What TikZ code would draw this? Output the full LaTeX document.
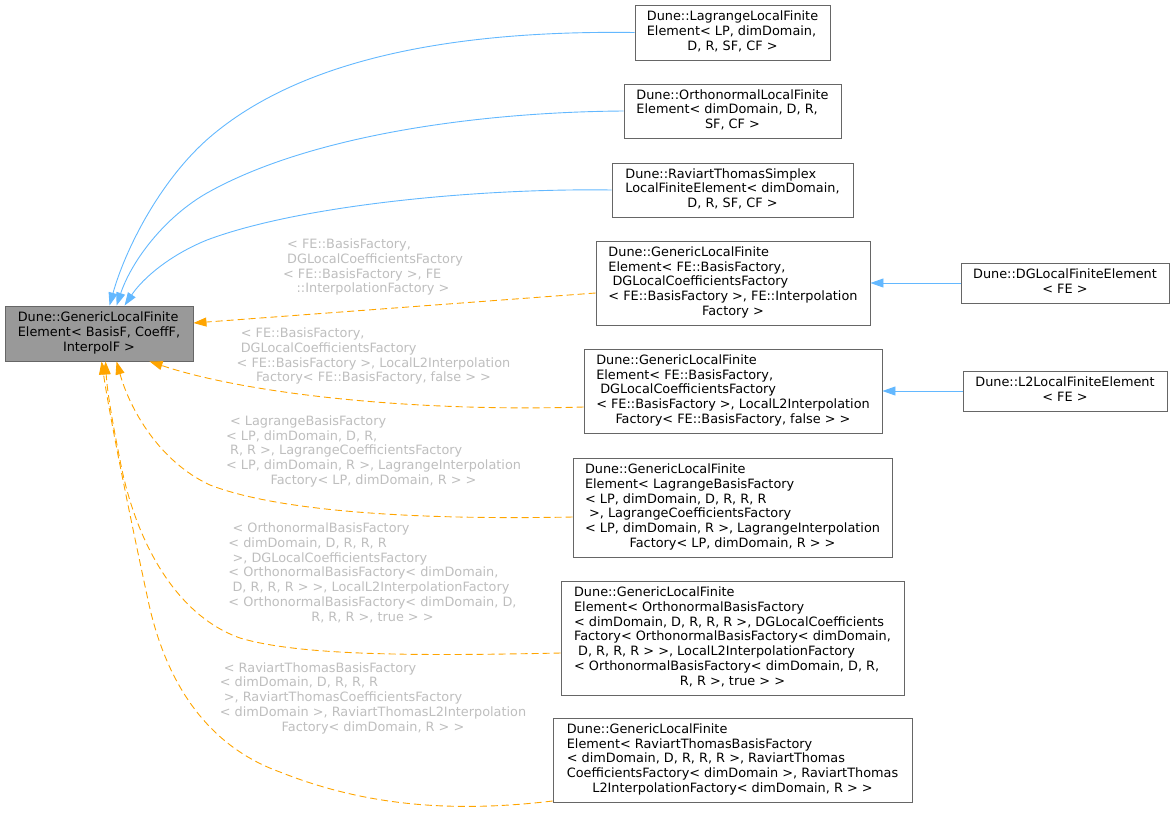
\documentclass[tikz,border=0pt]{standalone}
\usepackage{fontspec}
\setmainfont{DejaVu Sans}
\usetikzlibrary{arrows.meta}
\definecolor{edgeblue}{HTML}{63B8FF}
\definecolor{edgeorange}{HTML}{FFA500}
\definecolor{boxborder}{HTML}{666666}
\definecolor{mainfill}{HTML}{999999}
\definecolor{lblgray}{HTML}{BEBEBE}
\newcommand\dxl[2]{\begin{tabular}{@{}l@{}}#1\\\multicolumn{1}{@{}c@{}}{#2}\end{tabular}}
\tikzset{
 cls/.style={draw=boxborder, line width=0.9pt, fill=white, inner sep=0pt, text=black, font=\fontsize{12.85}{14.7}\selectfont},
 mainbox/.style={cls, fill=mainfill},
 lbl/.style={inner sep=0pt, text=lblgray, font=\fontsize{12.85}{14.7}\selectfont},
 inh/.style={draw=edgeblue, line width=0.9pt, -{Triangle[length=13pt,width=9pt]}},
 tmpl/.style={draw=edgeorange, line width=0.9pt, dash pattern=on 7pt off 4pt, -{Triangle[length=13pt,width=9pt]}},
}
\begin{document}
\begin{tikzpicture}[x=1pt,y=-1pt]
\useasboundingbox (0,0) rectangle (1175,812);
% nodes
\node[mainbox, minimum width=188pt, minimum height=55pt] (main) at (99,333.5) {\dxl{Dune::GenericLocalFinite\\Element< BasisF, CoeffF,}{InterpolF >}};
\node[cls, minimum width=195pt, minimum height=55pt] (lagr) at (732.5,32.5) {\dxl{Dune::LagrangeLocalFinite\\Element< LP, dimDomain,}{D, R, SF, CF >}};
\node[cls, minimum width=217pt, minimum height=54pt] (orth) at (732.5,111) {\dxl{Dune::OrthonormalLocalFinite\\Element< dimDomain, D, R,}{SF, CF >}};
\node[cls, minimum width=241pt, minimum height=54pt] (rts) at (732.5,190) {\dxl{Dune::RaviartThomasSimplex\\LocalFiniteElement< dimDomain,}{D, R, SF, CF >}};
\node[cls, minimum width=274pt, minimum height=84pt] (gfe) at (733,283) {\dxl{Dune::GenericLocalFinite\\Element< FE::BasisFactory,\\\ DGLocalCoefficientsFactory\\< FE::BasisFactory >, FE::Interpolation}{Factory >}};
\node[cls, minimum width=208pt, minimum height=40pt] (dg) at (1065,283) {\dxl{Dune::DGLocalFiniteElement}{< FE >}};
\node[cls, minimum width=298pt, minimum height=84pt] (gl2) at (733,391) {\dxl{Dune::GenericLocalFinite\\Element< FE::BasisFactory,\\\ DGLocalCoefficientsFactory\\< FE::BasisFactory >, LocalL2Interpolation}{Factory< FE::BasisFactory, false > >}};
\node[cls, minimum width=204pt, minimum height=40pt] (l2) at (1065,391) {\dxl{Dune::L2LocalFiniteElement}{< FE >}};
\node[cls, minimum width=319pt, minimum height=99pt] (glag) at (732.5,507.5) {\dxl{Dune::GenericLocalFinite\\Element< LagrangeBasisFactory\\< LP, dimDomain, D, R, R, R\\\ >, LagrangeCoefficientsFactory\\< LP, dimDomain, R >, LagrangeInterpolation}{Factory< LP, dimDomain, R > >}};
\node[cls, minimum width=343pt, minimum height=114pt] (gort) at (732.5,638) {\dxl{Dune::GenericLocalFinite\\Element< OrthonormalBasisFactory\\< dimDomain, D, R, R, R >, DGLocalCoefficients\\Factory< OrthonormalBasisFactory< dimDomain,\\\ D, R, R, R > >, LocalL2InterpolationFactory\\< OrthonormalBasisFactory< dimDomain, D, R,}{R, R >, true > >}};
\node[cls, minimum width=359pt, minimum height=84pt] (grt) at (732.5,760) {\dxl{Dune::GenericLocalFinite\\Element< RaviartThomasBasisFactory\\< dimDomain, D, R, R, R >, RaviartThomas\\CoefficientsFactory< dimDomain >, RaviartThomas}{L2InterpolationFactory< dimDomain, R > >}};
% edge labels
\node[lbl] (t1) at (373,268) {\dxl{\ < FE::BasisFactory,\\\ DGLocalCoefficientsFactory\\< FE::BasisFactory >, FE}{::InterpolationFactory >}};
\node[lbl] (t2) at (373.5,357) {\dxl{\ < FE::BasisFactory,\\\ DGLocalCoefficientsFactory\\< FE::BasisFactory >, LocalL2Interpolation}{Factory< FE::BasisFactory, false > >}};
\node[lbl] (t3) at (373.5,452) {\dxl{\ < LagrangeBasisFactory\\< LP, dimDomain, D, R,\\\ R, R >, LagrangeCoefficientsFactory\\< LP, dimDomain, R >, LagrangeInterpolation}{Factory< LP, dimDomain, R > >}};
\node[lbl] (t4) at (372.5,574) {\dxl{\ < OrthonormalBasisFactory\\< dimDomain, D, R, R, R\\\ >, DGLocalCoefficientsFactory\\< OrthonormalBasisFactory< dimDomain,\\\ D, R, R, R > >, LocalL2InterpolationFactory\\< OrthonormalBasisFactory< dimDomain, D,}{R, R, R >, true > >}};
\node[lbl] (t5) at (373,698.7) {\dxl{\ < RaviartThomasBasisFactory\\< dimDomain, D, R, R, R\\\ >, RaviartThomasCoefficientsFactory\\< dimDomain >, RaviartThomasL2Interpolation}{Factory< dimDomain, R > >}};
% inheritance edges
\draw[inh] (lagr.west) .. controls (450,30) and (300,60) .. (210,137) .. controls (160,180) and (125,250) .. ([xshift=105pt]main.north west);
\draw[inh] (orth.west) .. controls (480,112) and (310,135) .. (207,193) .. controls (165,217) and (132,260) .. ([xshift=112pt]main.north west);
\draw[inh] (rts.west) .. controls (480,188) and (300,205) .. (207,240) .. controls (170,255) and (143,278) .. ([xshift=120pt]main.north west);
\draw[inh] (dg.west) -- (gfe.east);
\draw[inh] (l2.west) -- (gl2.east);
% template instance edges
\draw[tmpl] ([yshift=-10pt]gfe.west) -- ([yshift=10.5pt]main.east);
\draw[tmpl] ([yshift=-16pt]gl2.west) .. controls (420,412) and (250,395) .. ([xshift=145pt]main.south west);
\draw[tmpl] ([yshift=-9.5pt]glag.west) .. controls (420,520) and (280,512) .. (210,485) .. controls (160,462) and (130,410) .. ([xshift=112pt]main.south west);
\draw[tmpl] ([yshift=-15pt]gort.west) .. controls (420,656) and (300,656) .. (240,638) .. controls (175,615) and (135,540) .. (120,460) .. controls (112,420) and (107,390) .. ([xshift=101pt]main.south west);
\draw[tmpl] ([yshift=-41pt]grt.west) .. controls (460,812) and (370,808) .. (280,772) .. controls (205,745) and (165,680) .. (148,600) .. controls (133,530) and (112,430) .. ([xshift=97pt]main.south west);
\end{tikzpicture}
\end{document}
